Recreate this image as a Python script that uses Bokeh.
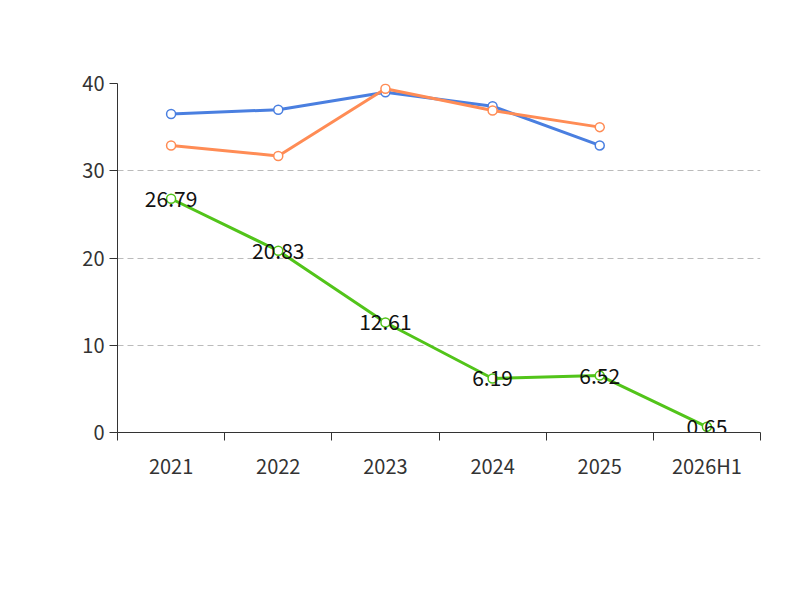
from bokeh.plotting import figure
from bokeh.models import FixedTicker, Legend, LegendItem, Label, ColumnDataSource
from bokeh.embed import file_html
from bokeh.resources import INLINE
from bokeh.core.properties import value

categories = ["2021", "2022", "2023", "2024", "2025", "2026H1"]
company = [26.79, 20.83, 12.61, 6.19, 6.52, 0.65]
ind_mean = [36.5, 37.0, 39.0, 37.4, 32.9]
ind_median = [32.9, 31.7, 39.4, 36.9, 35.0]

FONT = "Noto Sans CJK SC"
xs = [i + 0.5 for i in range(len(categories))]

p = figure(frame_width=643, frame_height=349, output_backend="svg", toolbar_location=None,
           x_range=(0, 6), y_range=(0, 40),
           min_border_left=117, min_border_right=24, min_border_top=83, min_border_bottom=152)
p.outline_line_color = None

g = p.xaxis[0]
g.ticker = FixedTicker(ticks=xs, minor_ticks=list(range(7)))
g.major_label_overrides = {x: c for x, c in zip(xs, categories)}
g.major_tick_out = 0
g.major_tick_in = 0
g.minor_tick_out = 8
g.minor_tick_in = 0
g.axis_line_color = "#333333"
g.minor_tick_line_color = "#333333"
g.major_label_text_font = FONT
g.major_label_text_font_size = "20px"
g.major_label_text_color = "#333333"
g.major_label_standoff = 10

ya = p.yaxis[0]
ya.ticker = FixedTicker(ticks=[0, 10, 20, 30, 40])
ya.minor_tick_line_color = None
ya.major_tick_out = 8
ya.major_tick_in = 0
ya.axis_line_color = "#333333"
ya.major_tick_line_color = "#333333"
ya.major_label_text_font = FONT
ya.major_label_text_font_size = "20px"
ya.major_label_text_color = "#333333"

p.xgrid.grid_line_color = None
p.ygrid.grid_line_color = "#bbbbbb"
p.ygrid.grid_line_dash = "6 4"

c1, c2, c3 = "#52c41a", "#4a7fe0", "#ff8c55"
r1 = p.line(xs, company, line_color=c1, line_width=3)
m1 = p.scatter(xs, company, size=9, fill_color="white", line_color=c1, line_width=1.5)
r2 = p.line(xs[:5], ind_mean, line_color=c2, line_width=3)
m2 = p.scatter(xs[:5], ind_mean, size=9, fill_color="white", line_color=c2, line_width=1.5)
r3 = p.line(xs[:5], ind_median, line_color=c3, line_width=3)
m3 = p.scatter(xs[:5], ind_median, size=9, fill_color="white", line_color=c3, line_width=1.5)

src = ColumnDataSource(dict(x=xs, y=company, t=[f"{v:.2f}" for v in company]))
p.text("x", "y", text="t", source=src, text_align="center", text_baseline="middle",
       text_font=value(FONT), text_font_size="21px", text_color="#111111")

p.add_layout(Label(x=3, y=47.9, text="近年来有息资产负债率情况(%)", text_font=FONT,
                   text_font_size="25px", text_font_style="bold", text_color="#333333",
                   text_align="center", text_baseline="middle"))
p.add_layout(Label(x=-0.59, y=35.9, text="(%)", angle=1.5708, text_color="#e00000",
                   text_font=FONT, text_font_size="14px", text_align="center",
                   text_baseline="middle"))
p.add_layout(Label(x=3, y=-17.2, text="制图数据来自恒生聚源数据库", text_font=FONT,
                   text_font_size="15px", text_color="#c8961e",
                   text_align="center", text_baseline="middle"))

legend = Legend(items=[LegendItem(label="有息资产负债率", renderers=[r1, m1]),
                       LegendItem(label="A股行业均值", renderers=[r2, m2]),
                       LegendItem(label="A股行业中位数", renderers=[r3, m3])],
                orientation="horizontal", location=(-75, -118),
                label_text_font=FONT, label_text_font_size="21px",
                label_text_color="#333333", glyph_width=46, glyph_height=22,
                spacing=26, border_line_color=None, background_fill_alpha=0)
p.add_layout(legend, "center")

open("out.html", "w").write(file_html(p, INLINE))
